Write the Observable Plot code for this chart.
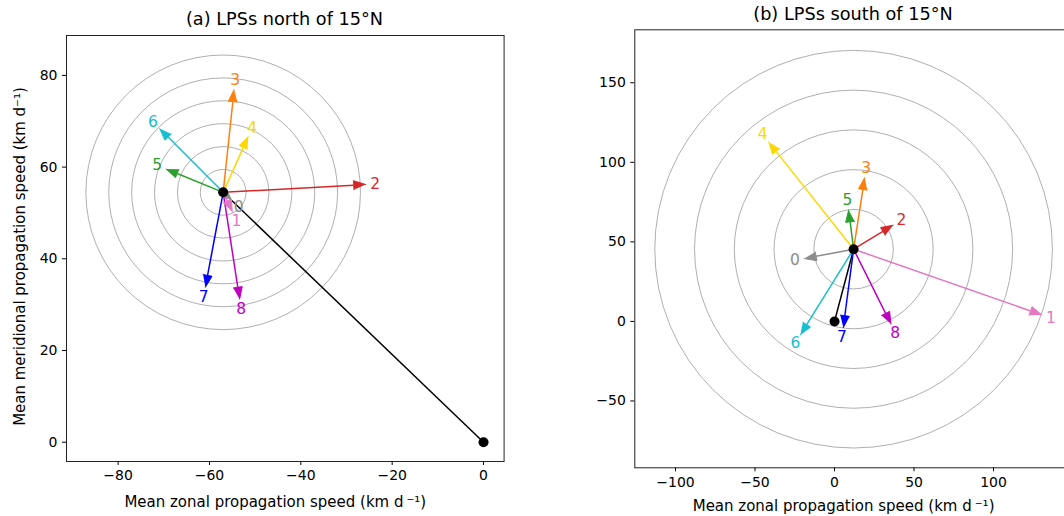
<!DOCTYPE html>
<html><head><meta charset="utf-8">
<script src="https://cdn.jsdelivr.net/npm/d3@7"></script>
<script src="https://cdn.jsdelivr.net/npm/@observablehq/plot@0.6"></script>
<style>
html,body{margin:0;padding:0;background:#fff;}
body{width:1064px;height:516px;overflow:hidden;position:relative;font-family:"DejaVu Sans",sans-serif;}
.panel{position:absolute;top:0;width:600px;}
.panel svg{max-width:none !important;display:block;}
.title{position:absolute;z-index:5;font-size:17.7px;color:#000;white-space:nowrap;transform:translate(-50%,-50%);line-height:1;}
</style></head><body>
<div id="pa" class="panel" style="left:0px"></div>
<div id="pb" class="panel" style="left:560px"></div>
<div class="title" style="left:284.5px;top:20px">(a) LPSs north of 15°N</div>
<div class="title" style="left:853px;top:15px">(b) LPSs south of 15°N</div>
<script>
// ---- data ----
const stageLabels = ["0","1","2","3","4","5","6","7","8"];
const stageColors = ["#8c8c8c","#e377c2","#d62728","#ff7f0e","#ffd700","#2ca02c","#17becf","#0000ff","#bf00bf"];

// (a) LPSs north of 15°N : zonal (u) and meridional (v) components, km/day
const northCenter = [-57, 54.5];
const northStart = [0, 0];
const northU = [1.9, 2.0, 31.2, 2.4, 5.5, -12.5, -13.9, -3.9, 3.6];
const northV = [-1.8, -4.3, 1.7, 22.4, 12.2, 5.1, 13.9, -20.7, -23.3];
const northRings = [5, 10, 15, 20, 25, 30];
const northXTicks = [-80, -60, -40, -20, 0];
const northYTicks = [0, 20, 40, 60, 80];

// (b) LPSs south of 15°N
const southCenter = [12, 45.4];
const southStart = [0, 0];
const southU = [-31, 118.4, 24.9, 7.0, -53.4, -3.1, -33.5, -6.5, 23.5];
const southV = [-5.9, -41.3, 15.1, 45, 67.4, 24.7, -53.8, -49.3, -47.1];
const southRings = [25, 50, 75, 100, 125];
const southXTicks = [-100, -50, 0, 50, 100];
const southYTicks = [-50, 0, 50, 100, 150];

const xLabelText = "Mean zonal propagation speed (km d\u2009\u207B\u00B9)";
const yLabelText = "Mean meridional propagation speed (km d\u207B\u00B9)";

const fmt = d => d < 0 ? "\u2212" + (-d) : String(d);

function makePanel(cfg) {
  const {xDomain, yDomain, mLeft, mTop, pw, ph, mRight, mBottom, center, start,
         U, V, rings, xTicks, yTicks, yLabel, yLabelDx, xLabelDx, xLabelDy} = cfg;
  const kx = pw / (xDomain[1] - xDomain[0]);
  const ky = ph / (yDomain[1] - yDomain[0]);
  const [cx, cy] = center;
  const HEAD_L = 12, HEAD_W = 4.5, LABEL_OFF = 9.5;
  const arrows = U.map((u, i) => {
    const v = V[i];
    const px = u * kx, py = v * ky, n = Math.hypot(px, py);
    const ex = px / n, ey = py / n;
    const tx = cx + u, ty = cy + v;
    const bx = tx - HEAD_L * ex / kx, by = ty - HEAD_L * ey / ky;
    return {
      label: stageLabels[i], cx, cy, tx, ty, bx, by,
      lx: tx + LABEL_OFF * ex / kx, ly: ty + LABEL_OFF * ey / ky,
      head: [[tx, ty], [bx - HEAD_W * ey / kx, by + HEAD_W * ex / ky], [bx + HEAD_W * ey / kx, by - HEAD_W * ex / ky]]
    };
  });
  const headPts = arrows.flatMap(a => a.head.map(([x, y]) => ({x, y, label: a.label})));
  const marks = [];
  for (const r of rings) {
    marks.push(Plot.dot([center], {x: d => d[0], y: d => d[1], r: r * (kx + ky) / 2, stroke: "#9a9a9a", strokeWidth: 0.8, fill: "none"}));
  }
  marks.push(Plot.link([{start, center}], {x1: d => d.start[0], y1: d => d.start[1], x2: d => d.center[0], y2: d => d.center[1], stroke: "black", strokeWidth: 1.5}));
  marks.push(Plot.link(arrows, {x1: "cx", y1: "cy", x2: "bx", y2: "by", stroke: "label", strokeWidth: 1.5}));
  marks.push(Plot.line(headPts, {x: "x", y: "y", z: "label", fill: "label", stroke: "label", strokeWidth: 1}));
  marks.push(Plot.text(arrows, {x: "lx", y: "ly", text: "label", fill: "label", fontSize: 15.5}));
  marks.push(Plot.dot([center, start], {x: d => d[0], y: d => d[1], r: 5, fill: "black"}));
  marks.push(Plot.frame({stroke: "#222", strokeWidth: 1}));
  marks.push(Plot.axisX({ticks: xTicks, tickFormat: fmt, tickSize: 4, fontSize: 14, label: null}));
  marks.push(Plot.axisY({ticks: yTicks, tickFormat: fmt, tickSize: 4, fontSize: 14, label: null}));
  marks.push(Plot.text([xLabelText], {text: d => d, frameAnchor: "bottom", dx: xLabelDx, dy: xLabelDy, fontSize: 15, fill: "black"}));
  if (yLabel) {
    marks.push(Plot.text([yLabel], {text: d => d, frameAnchor: "left", textAnchor: "middle", rotate: -90, dx: yLabelDx, dy: 8, fontSize: 15, fill: "black"}));
  }
  return Plot.plot({
    width: mLeft + pw + mRight, height: mTop + ph + mBottom,
    marginLeft: mLeft, marginTop: mTop, marginRight: mRight, marginBottom: mBottom,
    x: {domain: xDomain}, y: {domain: yDomain},
    color: {domain: stageLabels, range: stageColors},
    style: {fontFamily: "DejaVu Sans", fontSize: "14px", color: "black", background: "transparent", overflow: "visible"},
    marks
  });
}

document.getElementById("pa").appendChild(makePanel({
  xDomain: [-91.3, 4.5], yDomain: [-4.2, 88.7],
  mLeft: 66, mTop: 35, pw: 437.6, ph: 426, mRight: 10, mBottom: 55,
  center: northCenter, start: northStart, U: northU, V: northV, rings: northRings,
  xTicks: northXTicks, yTicks: northYTicks, yLabel: yLabelText, yLabelDx: -46, xLabelDx: -10, xLabelDy: 46
}));
document.getElementById("pb").appendChild(makePanel({
  xDomain: [-125.6, 149.6], yDomain: [-92, 183.3],
  mLeft: 74.3, mTop: 29.3, pw: 437.6, ph: 438, mRight: 10, mBottom: 48.7,
  center: southCenter, start: southStart, U: southU, V: southV, rings: southRings,
  xTicks: southXTicks, yTicks: southYTicks, yLabel: null, yLabelDx: -40, xLabelDx: -10, xLabelDy: 43
}));
</script>
</body></html>
